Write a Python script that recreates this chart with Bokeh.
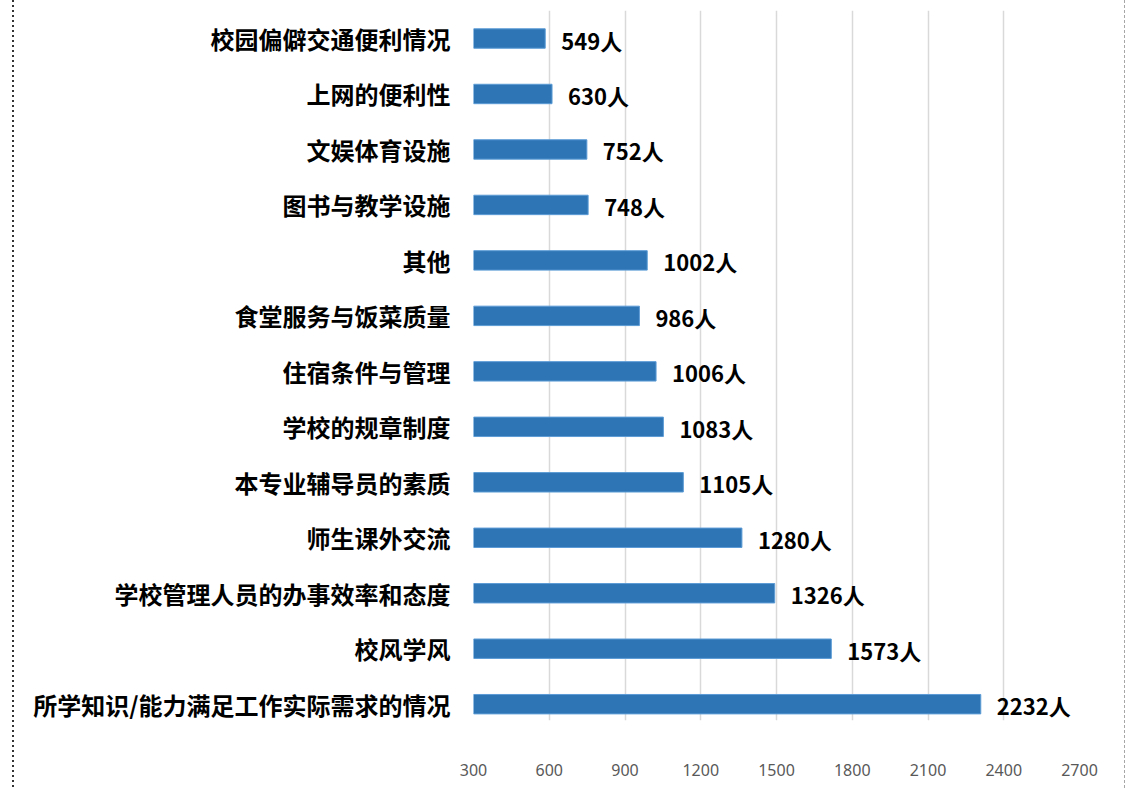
from bokeh.plotting import figure
from bokeh.models import Range1d, FixedTicker
from bokeh.core.properties import value
from bokeh.embed import file_html
from bokeh.resources import INLINE

# Categories listed top to bottom
categories = [
    "校园偏僻交通便利情况",
    "上网的便利性",
    "文娱体育设施",
    "图书与教学设施",
    "其他",
    "食堂服务与饭菜质量",
    "住宿条件与管理",
    "学校的规章制度",
    "本专业辅导员的素质",
    "师生课外交流",
    "学校管理人员的办事效率和态度",
    "校风学风",
    "所学知识/能力满足工作实际需求的情况",
]
# Bar lengths as drawn in the picture
bar_values = [584, 611, 749, 754, 988, 957, 1023, 1052, 1131, 1363, 1493, 1717, 2309]
# Numbers printed as data labels
label_values = [549, 630, 752, 748, 1002, 986, 1006, 1083, 1105, 1280, 1326, 1573, 2232]
label_suffix = "人"
x_ticks = [300, 600, 900, 1200, 1500, 1800, 2100, 2400, 2700]

n = len(categories)
ypos = [n - 1 - i for i in range(n)]
labels = [f"{v}{label_suffix}" for v in label_values]

W, H = 1126, 789
FL, FR, FT, FB = 473, 1079, 10, 720
p = figure(
    width=W, height=H,
    output_backend="svg", toolbar_location=None,
    x_range=Range1d(x_ticks[0], x_ticks[-1]),
    y_range=Range1d(-0.294, 12.505),
    min_border_left=FL, min_border_right=W - FR,
    min_border_top=FT, min_border_bottom=H - FB,
)
p.outline_line_color = None
p.background_fill_color = "white"
p.border_fill_color = None

# dotted chart-area border on the left and right edges (CSS background of the figure)
dots_left = "repeating-linear-gradient(to bottom, #333333 0px, #333333 2px, transparent 2px, transparent 5px)"
dots_right = "repeating-linear-gradient(to bottom, #a6a6a6 0px, #a6a6a6 3px, transparent 3px, transparent 5px)"
p.styles = {
    "background-color": "white",
    "background-image": f"{dots_left}, {dots_right}",
    "background-size": "2px 100%, 1px 100%",
    "background-position": "12px 0px, 1124px 0px",
    "background-repeat": "no-repeat, no-repeat",
}

p.hbar(y=ypos, left=x_ticks[0], right=bar_values, height=0.35,
       fill_color="#2e75b6", line_color="#5b9bd5", line_width=1)

p.text(x=bar_values, y=ypos, text=labels,
       x_offset=16, y_offset=1,
       text_align="left", text_baseline="middle",
       text_font=value("Noto Sans CJK SC"), text_font_style="bold",
       text_font_size="22px", text_color="black")

# x axis
xa = p.xaxis[0]
xa.ticker = FixedTicker(ticks=x_ticks)
xa.axis_line_color = None
xa.major_tick_line_color = None
xa.minor_tick_line_color = None
xa.major_tick_out = 0
xa.major_label_standoff = 43
xa.major_label_text_font = "Noto Sans"
xa.major_label_text_font_size = "16px"
xa.major_label_text_color = "#595959"

# y axis (category names)
ya = p.yaxis[0]
ya.ticker = FixedTicker(ticks=ypos)
ya.major_label_overrides = {y: c for y, c in zip(ypos, categories)}
ya.axis_line_color = None
ya.major_tick_line_color = None
ya.minor_tick_line_color = None
ya.major_tick_out = 0
ya.major_label_standoff = 23
ya.major_label_text_font = "Noto Sans CJK SC"
ya.major_label_text_font_style = "bold"
ya.major_label_text_font_size = "24px"
ya.major_label_text_color = "black"

p.xgrid.grid_line_color = "#d9d9d9"
p.xgrid.grid_line_width = 1.5
p.xgrid.ticker = FixedTicker(ticks=x_ticks)
p.ygrid.grid_line_color = None

open("out.html", "w").write(file_html(p, INLINE))
